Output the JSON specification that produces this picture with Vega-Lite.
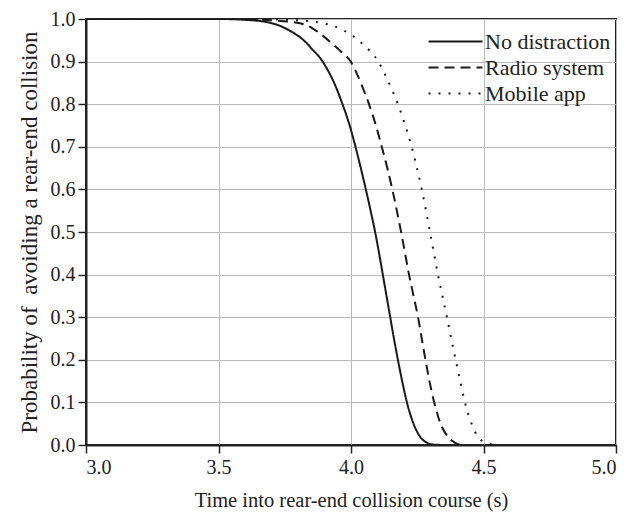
{
  "$schema": "https://vega.github.io/schema/vega-lite/v6.json",
  "width": 530,
  "height": 426,
  "autosize": "none",
  "padding": {"left": 86, "top": 19, "right": 13, "bottom": 69},
  "background": "white",
  "config": {
    "font": "Liberation Serif",
    "view": {"stroke": "#222", "strokeWidth": 2},
    "axis": {
      "labelFont": "Liberation Serif",
      "titleFont": "Liberation Serif",
      "labelFontSize": 20,
      "titleFontSize": 20.5,
      "titleFontWeight": "normal",
      "labelColor": "#222",
      "titleColor": "#222",
      "domainColor": "#222",
      "domainWidth": 2,
      "tickColor": "#222",
      "tickWidth": 1.5,
      "tickSize": 8,
      "gridColor": "#bbbbbb",
      "gridWidth": 1
    },
    "legend": {
      "labelFont": "Liberation Serif",
      "labelFontSize": 22,
      "labelColor": "#222"
    }
  },
  "data": {
    "values": [
      {"t": 3.0, "p": 1.0, "s": "No distraction"},
      {"t": 3.5, "p": 1.0, "s": "No distraction"},
      {"t": 3.6, "p": 0.998, "s": "No distraction"},
      {"t": 3.68, "p": 0.993, "s": "No distraction"},
      {"t": 3.732, "p": 0.984, "s": "No distraction"},
      {"t": 3.77, "p": 0.972, "s": "No distraction"},
      {"t": 3.808, "p": 0.957, "s": "No distraction"},
      {"t": 3.835, "p": 0.942, "s": "No distraction"},
      {"t": 3.858, "p": 0.926, "s": "No distraction"},
      {"t": 3.875, "p": 0.915, "s": "No distraction"},
      {"t": 3.893, "p": 0.9, "s": "No distraction"},
      {"t": 3.915, "p": 0.877, "s": "No distraction"},
      {"t": 3.935, "p": 0.852, "s": "No distraction"},
      {"t": 3.968, "p": 0.8, "s": "No distraction"},
      {"t": 3.995, "p": 0.75, "s": "No distraction"},
      {"t": 4.017, "p": 0.7, "s": "No distraction"},
      {"t": 4.037, "p": 0.65, "s": "No distraction"},
      {"t": 4.056, "p": 0.6, "s": "No distraction"},
      {"t": 4.074, "p": 0.55, "s": "No distraction"},
      {"t": 4.091, "p": 0.5, "s": "No distraction"},
      {"t": 4.106, "p": 0.45, "s": "No distraction"},
      {"t": 4.12, "p": 0.4, "s": "No distraction"},
      {"t": 4.134, "p": 0.35, "s": "No distraction"},
      {"t": 4.148, "p": 0.3, "s": "No distraction"},
      {"t": 4.162, "p": 0.25, "s": "No distraction"},
      {"t": 4.177, "p": 0.2, "s": "No distraction"},
      {"t": 4.193, "p": 0.15, "s": "No distraction"},
      {"t": 4.211, "p": 0.1, "s": "No distraction"},
      {"t": 4.236, "p": 0.05, "s": "No distraction"},
      {"t": 4.26, "p": 0.02, "s": "No distraction"},
      {"t": 4.285, "p": 0.006, "s": "No distraction"},
      {"t": 4.31, "p": 0.001, "s": "No distraction"},
      {"t": 4.35, "p": 0.0, "s": "No distraction"},
      {"t": 3.0, "p": 1.0, "s": "Radio system"},
      {"t": 3.55, "p": 1.0, "s": "Radio system"},
      {"t": 3.7, "p": 0.997, "s": "Radio system"},
      {"t": 3.808, "p": 0.99, "s": "Radio system"},
      {"t": 3.85, "p": 0.98, "s": "Radio system"},
      {"t": 3.883, "p": 0.966, "s": "Radio system"},
      {"t": 3.92, "p": 0.947, "s": "Radio system"},
      {"t": 3.96, "p": 0.925, "s": "Radio system"},
      {"t": 3.999, "p": 0.9, "s": "Radio system"},
      {"t": 4.037, "p": 0.85, "s": "Radio system"},
      {"t": 4.068, "p": 0.8, "s": "Radio system"},
      {"t": 4.094, "p": 0.75, "s": "Radio system"},
      {"t": 4.116, "p": 0.7, "s": "Radio system"},
      {"t": 4.137, "p": 0.65, "s": "Radio system"},
      {"t": 4.156, "p": 0.6, "s": "Radio system"},
      {"t": 4.173, "p": 0.55, "s": "Radio system"},
      {"t": 4.189, "p": 0.5, "s": "Radio system"},
      {"t": 4.204, "p": 0.45, "s": "Radio system"},
      {"t": 4.219, "p": 0.4, "s": "Radio system"},
      {"t": 4.236, "p": 0.35, "s": "Radio system"},
      {"t": 4.253, "p": 0.3, "s": "Radio system"},
      {"t": 4.267, "p": 0.25, "s": "Radio system"},
      {"t": 4.281, "p": 0.2, "s": "Radio system"},
      {"t": 4.296, "p": 0.15, "s": "Radio system"},
      {"t": 4.314, "p": 0.1, "s": "Radio system"},
      {"t": 4.338, "p": 0.05, "s": "Radio system"},
      {"t": 4.365, "p": 0.02, "s": "Radio system"},
      {"t": 4.39, "p": 0.006, "s": "Radio system"},
      {"t": 4.41, "p": 0.001, "s": "Radio system"},
      {"t": 4.45, "p": 0.0, "s": "Radio system"},
      {"t": 3.0, "p": 1.0, "s": "Mobile app"},
      {"t": 3.6, "p": 1.0, "s": "Mobile app"},
      {"t": 3.8, "p": 0.997, "s": "Mobile app"},
      {"t": 3.921, "p": 0.986, "s": "Mobile app"},
      {"t": 3.97, "p": 0.974, "s": "Mobile app"},
      {"t": 4.003, "p": 0.962, "s": "Mobile app"},
      {"t": 4.05, "p": 0.938, "s": "Mobile app"},
      {"t": 4.103, "p": 0.9, "s": "Mobile app"},
      {"t": 4.143, "p": 0.85, "s": "Mobile app"},
      {"t": 4.177, "p": 0.8, "s": "Mobile app"},
      {"t": 4.205, "p": 0.75, "s": "Mobile app"},
      {"t": 4.229, "p": 0.7, "s": "Mobile app"},
      {"t": 4.249, "p": 0.65, "s": "Mobile app"},
      {"t": 4.267, "p": 0.6, "s": "Mobile app"},
      {"t": 4.283, "p": 0.55, "s": "Mobile app"},
      {"t": 4.298, "p": 0.5, "s": "Mobile app"},
      {"t": 4.313, "p": 0.45, "s": "Mobile app"},
      {"t": 4.328, "p": 0.4, "s": "Mobile app"},
      {"t": 4.345, "p": 0.35, "s": "Mobile app"},
      {"t": 4.362, "p": 0.3, "s": "Mobile app"},
      {"t": 4.378, "p": 0.25, "s": "Mobile app"},
      {"t": 4.395, "p": 0.2, "s": "Mobile app"},
      {"t": 4.412, "p": 0.15, "s": "Mobile app"},
      {"t": 4.43, "p": 0.1, "s": "Mobile app"},
      {"t": 4.455, "p": 0.05, "s": "Mobile app"},
      {"t": 4.478, "p": 0.02, "s": "Mobile app"},
      {"t": 4.499, "p": 0.008, "s": "Mobile app"},
      {"t": 4.53, "p": 0.002, "s": "Mobile app"},
      {"t": 4.56, "p": 0.0, "s": "Mobile app"}
    ]
  },
  "mark": {"type": "line", "color": "#1a1a1a", "strokeWidth": 2, "interpolate": "monotone", "clip": true},
  "encoding": {
    "x": {
      "field": "t", "type": "quantitative",
      "scale": {"domain": [3.0, 5.0], "nice": false},
      "axis": {"values": [3.0, 3.5, 4.0, 4.5, 5.0], "format": ".1f", "title": "Time into rear-end collision course (s)", "labelPadding": 4, "titlePadding": 13}
    },
    "y": {
      "field": "p", "type": "quantitative",
      "scale": {"domain": [0, 1], "nice": false},
      "axis": {"values": [0, 0.1, 0.2, 0.3, 0.4, 0.5, 0.6, 0.7, 0.8, 0.9, 1.0], "format": ".1f", "title": "Probability of\u00a0 avoiding a rear-end collision", "titleFontSize": 23, "labelPadding": 3, "titlePadding": 9}
    },
    "strokeDash": {
      "field": "s", "type": "nominal",
      "scale": {"domain": ["No distraction", "Radio system", "Mobile app"], "range": [[1, 0], [10, 6], [2, 8]]},
      "legend": {
        "title": null,
        "orient": "none",
        "legendX": 355,
        "legendY": 8,
        "symbolType": "M-2,0H2",
        "symbolSize": 729,
        "symbolStrokeWidth": 2,
        "symbolStrokeColor": "#1a1a1a",
        "labelOffset": 15,
        "rowPadding": 0,
        "fillColor": null
      }
    }
  }
}
